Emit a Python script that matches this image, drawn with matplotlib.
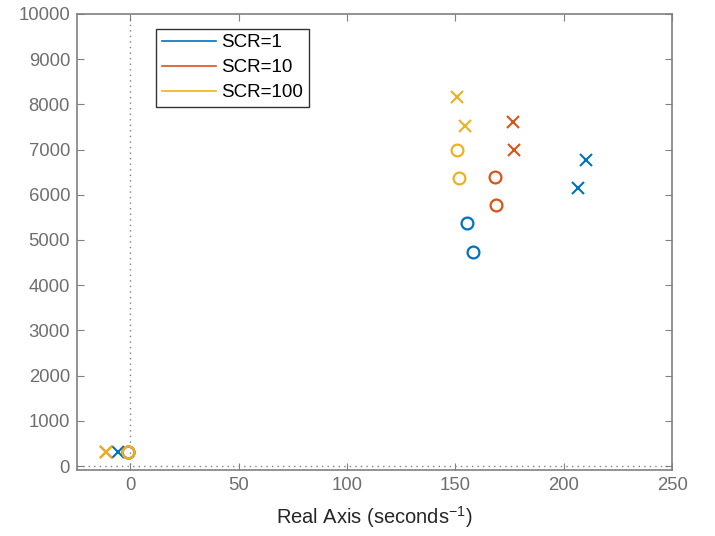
import matplotlib
matplotlib.use("Agg")
import matplotlib.pyplot as plt
from matplotlib.lines import Line2D

plt.rcParams['font.family'] = ['Liberation Sans', 'DejaVu Sans']
plt.rcParams['mathtext.default'] = 'regular'

series = ["SCR=1", "SCR=10", "SCR=100"]
colors = ["#0072BD", "#D95319", "#EDB120"]

# poles (x) and zeros (o) per series: real, imaginary parts
poles_re = [[210.5, 206.5, -5.5], [176.5, 177.0, -11.0], [151.0, 154.5, -11.0]]
poles_im = [[6760, 6150, 310], [7620, 7000, 300], [8170, 7530, 300]]
zeros_re = [[155.5, 158.0, -1.0], [168.5, 169.0, -1.0], [151.0, 151.5, -1.0]]
zeros_im = [[5380, 4740, 310], [6400, 5780, 310], [7000, 6360, 310]]

xticks = [0, 50, 100, 150, 200, 250]
yticks = [0, 1000, 2000, 3000, 4000, 5000, 6000, 7000, 8000, 9000, 10000]

fig = plt.figure(figsize=(7.15, 5.36), dpi=100)
ax = fig.add_axes([0.1077, 0.123, 0.8323, 0.851])

ax.axvline(0, color="#808080", linestyle=(0, (1, 3)), linewidth=1, zorder=1)
ax.axhline(0, color="#808080", linestyle=(0, (1, 3)), linewidth=1, zorder=1)

for i in range(3):
    ax.plot(zeros_re[i], zeros_im[i], linestyle='none', marker='o', markersize=8.5,
            markerfacecolor='none', markeredgecolor=colors[i], markeredgewidth=1.6, zorder=3)
    ax.plot(poles_re[i], poles_im[i], linestyle='none', marker='x', markersize=8,
            markeredgecolor=colors[i], markeredgewidth=1.5, zorder=3)

ax.set_xlim(-24.5, 250)
ax.set_ylim(-90, 10000)
ax.set_xticks(xticks)
ax.set_yticks(yticks)

grey = "#808080"
for s in ax.spines.values():
    s.set_color(grey)
    s.set_linewidth(1.2)
ax.tick_params(axis='both', direction='in', top=True, right=True, colors=grey,
               labelcolor="#6e6e6e", labelsize=13.3, length=5, width=0.8, pad=5)
ax.set_xlabel("Real Axis (seconds$^{-1}$)", fontsize=14.5, color="#262626", labelpad=7)

handles = [Line2D([0], [0], color=c, linewidth=1.2) for c in colors]
leg = ax.legend(handles, series, loc='upper left', bbox_to_anchor=(0.124, 0.98),
                fontsize=13.5, frameon=True, fancybox=False, edgecolor='black',
                handlelength=2.9, borderpad=0.3, labelspacing=0.42, handletextpad=0.25,
                borderaxespad=0.3)
leg.get_frame().set_linewidth(1.0)

fig.savefig("out.png", dpi=100)
